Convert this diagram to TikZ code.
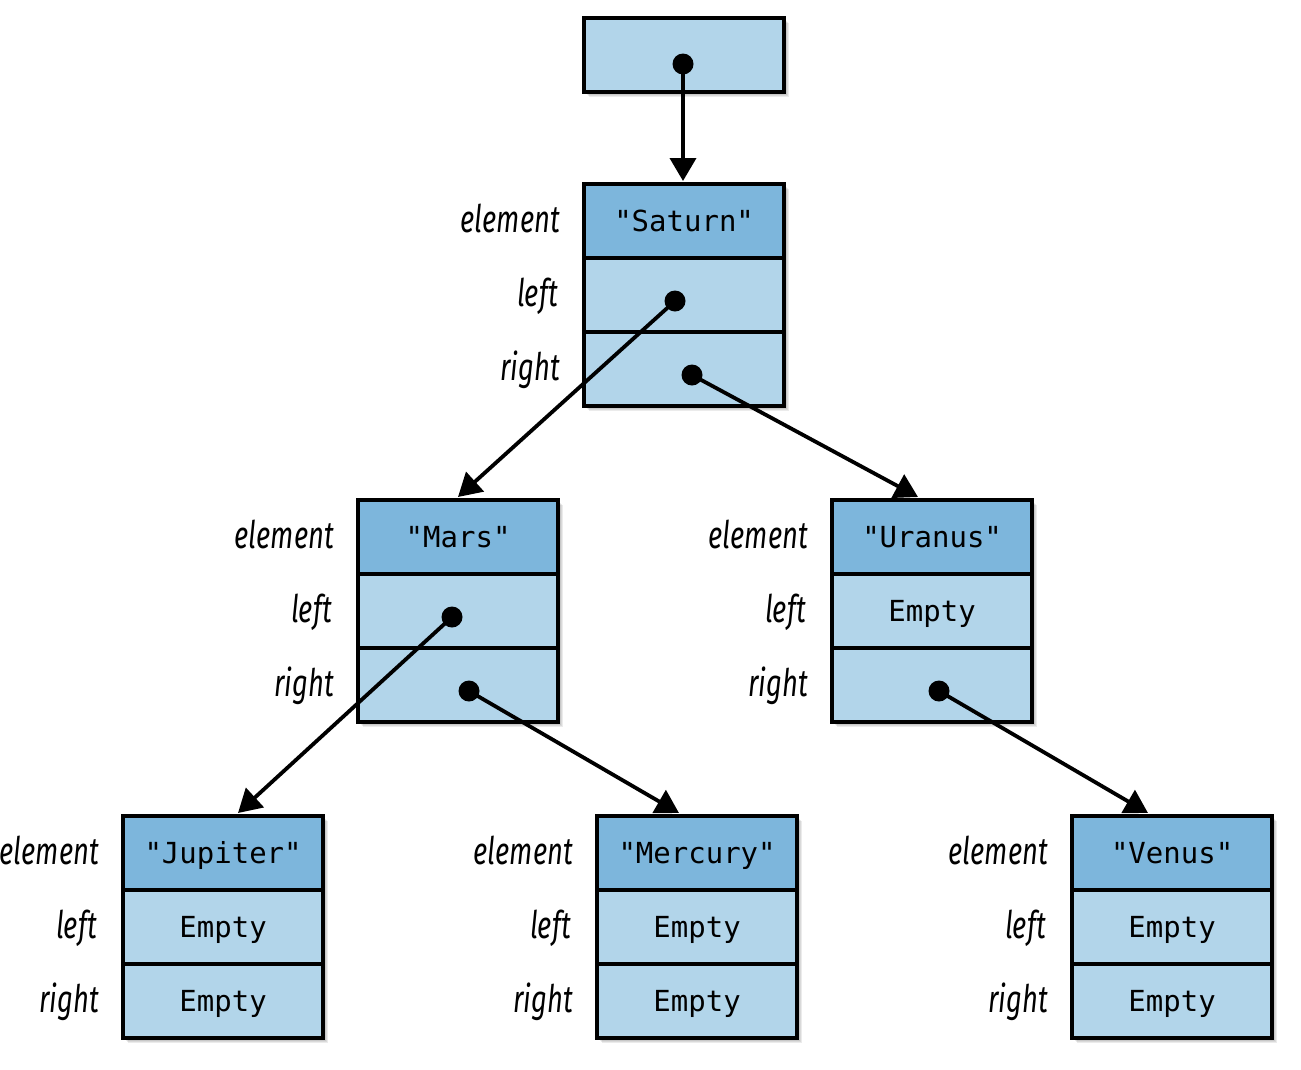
\documentclass[tikz,border=0pt]{standalone}
\usepackage{fontspec}
\newfontfamily\monofont{DejaVu Sans Mono}
\newfontfamily\labfont[FakeStretch=0.72]{Fira Sans}
\usetikzlibrary{arrows.meta,calc}
\definecolor{hdr}{HTML}{7DB6DC}
\definecolor{cell}{HTML}{B2D5EA}
\tikzset{
  cellbox/.style={draw=black, line width=4.2pt, fill=cell, minimum width=200pt, minimum height=74pt,
    inner sep=0pt, anchor=north west, text height=21pt, text depth=0pt,
    font=\monofont\fontsize{29}{29}\selectfont},
  hdrbox/.style={cellbox, fill=hdr},
  lab/.style={anchor=base east, inner sep=0pt, font=\labfont\itshape\fontsize{38}{38}\selectfont},
  dotnode/.style={circle, fill=black, minimum size=21pt, inner sep=0pt},
  link/.style={line width=3.8pt, -{Triangle[length=23pt,width=26pt]}},
  shade/.style={fill=black, opacity=0.08}
}
\newcommand\shadowbox[4]{% x y w h
  \foreach \k in {2,3,4,5,6,7}{\fill[shade] (#1+\k,#2+\k) rectangle (#1+#3+\k,#2+#4+\k);}
}
\newcommand\record[6]{% name x y element left right
  \shadowbox{#2}{#3}{200}{222}
  \node[hdrbox] (#1-e) at (#2,#3) {#4};
  \node[cellbox] (#1-l) at (#2,#3+74) {#5};
  \node[cellbox] (#1-r) at (#2,#3+148) {#6};
  \node[lab] (#1-te) at (#2-22,#3+37+13) {element};
  \node[lab] (#1-tl) at (#2-24,#3+111+13) {left};
  \node[lab] (#1-tr) at (#2-22,#3+185+13) {right};
}
\begin{document}
\begin{tikzpicture}[x=1pt,y=-1pt]
\useasboundingbox (0,0) rectangle (1301,1069);
% root pointer box
\shadowbox{582}{16}{200}{74}
\node[cellbox] (root) at (582,16) {};
\node[dotnode] (root-d) at (683,64) {};
% records
\record{sat}{582}{182}{"Saturn"}{}{}
\record{mar}{356}{498}{"Mars"}{}{}
\record{ura}{830}{498}{"Uranus"}{Empty}{}
\record{jup}{121}{814}{"Jupiter"}{Empty}{Empty}
\record{mer}{595}{814}{"Mercury"}{Empty}{Empty}
\record{ven}{1070}{814}{"Venus"}{Empty}{Empty}
% dots
\node[dotnode] (sat-ld) at (675,301) {};
\node[dotnode] (sat-rd) at (692,375) {};
\node[dotnode] (mar-ld) at (452,617) {};
\node[dotnode] (mar-rd) at (469,691) {};
\node[dotnode] (ura-rd) at (939,691) {};
% arrow targets
\coordinate (sat-in) at (683,181);
\coordinate (mar-in) at (458,497);
\coordinate (ura-in) at (918,497);
\coordinate (jup-in) at (238,813);
\coordinate (mer-in) at (679,813);
\coordinate (ven-in) at (1148,813);
% links
\draw[link] (root-d.center) -- (sat-in);
\draw[link] (sat-ld.center) -- (mar-in);
\draw[link] (sat-rd.center) -- (ura-in);
\draw[link] (mar-ld.center) -- (jup-in);
\draw[link] (mar-rd.center) -- (mer-in);
\draw[link] (ura-rd.center) -- (ven-in);
\end{tikzpicture}
\end{document}
